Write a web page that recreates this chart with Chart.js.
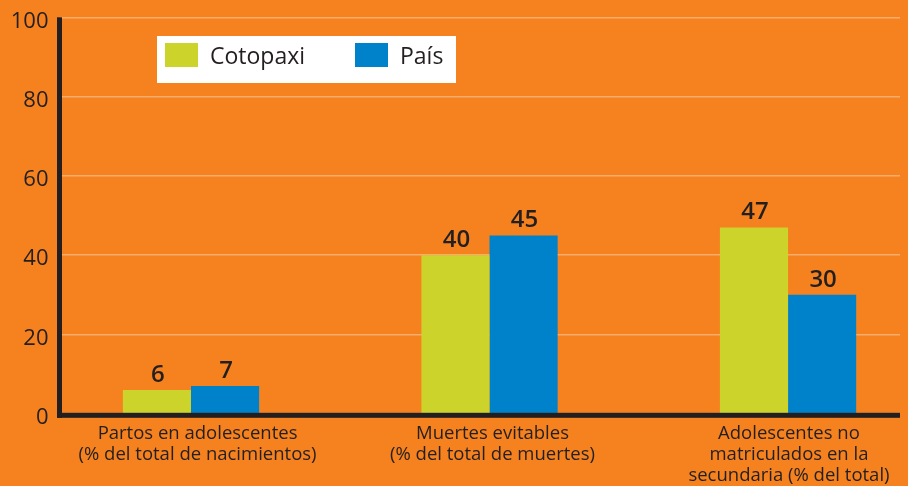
<!DOCTYPE html>
<html>
<head>
<meta charset="utf-8">
<script src="https://cdn.jsdelivr.net/npm/chart.js@4.4.1/dist/chart.umd.min.js"></script>
<style>
    html, body { margin: 0; padding: 0; background: #F5821F; overflow: hidden; }
    #wrap { width: 908px; height: 486px; }
</style>
</head>
<body>
<div id="wrap"><canvas id="chart"></canvas></div>
<script>
const categories = [
    ["Partos en adolescentes", "(% del total de nacimientos)"],
    ["Muertes evitables", "(% del total de muertes)"],
    ["Adolescentes no", "matriculados en la", "secundaria (% del total)"]
];
const seriesNames = ["Cotopaxi", "País"];
const cotopaxi = [6, 40, 47];
const pais = [7, 45, 30];
const yTicks = [0, 20, 40, 60, 80, 100];

const colors = ["#CCD32A", "#0082CA"];
const ink = "#231F20";
const font = "'Open Sans', sans-serif";

function toPoints(values) {
    return values.map((v, i) => ({ x: i, y: v }));
}

// value labels above each bar
const valueLabels = {
    id: "valueLabels",
    afterDatasetsDraw(chart) {
        const ctx = chart.ctx;
        ctx.save();
        ctx.fillStyle = ink;
        ctx.font = "600 24px " + font;
        ctx.textAlign = "center";
        ctx.textBaseline = "alphabetic";
        chart.data.datasets.forEach((ds, di) => {
            chart.getDatasetMeta(di).data.forEach((bar, i) => {
                ctx.fillText(String(ds.data[i].y), bar.x + 1, bar.y - 8);
            });
        });
        ctx.restore();
    }
};

// thick black axes
const axisLines = {
    id: "axisLines",
    afterDatasetsDraw(chart) {
        const ctx = chart.ctx;
        const a = chart.chartArea;
        const y = chart.scales.y;
        const top = y.getPixelForValue(100);
        const zero = y.getPixelForValue(0);
        ctx.save();
        ctx.fillStyle = ink;
        ctx.fillRect(a.left - 2.5, top, 5, zero + 4 - top);
        ctx.fillRect(a.left - 2.5, zero - 1, a.right - a.left + 2.5, 5);
        ctx.restore();
    }
};

// white legend box
const boxLegend = {
    id: "boxLegend",
    afterDraw(chart) {
        const ctx = chart.ctx;
        ctx.save();
        ctx.fillStyle = "#FFFFFF";
        ctx.fillRect(157, 36, 299, 47);
        const xs = [165, 355];
        chart.data.datasets.forEach((ds, i) => {
            ctx.fillStyle = ds.backgroundColor;
            ctx.fillRect(xs[i], 43, 33, 24);
            ctx.fillStyle = ink;
            ctx.font = "400 23px " + font;
            ctx.textAlign = "left";
            ctx.textBaseline = "middle";
            ctx.fillText(ds.label, xs[i] + 45, 57);
        });
        ctx.restore();
    }
};

new Chart(document.getElementById("chart"), {
    type: "bar",
    data: {
        datasets: [
            { label: seriesNames[0], data: toPoints(cotopaxi), backgroundColor: colors[0] },
            { label: seriesNames[1], data: toPoints(pais), backgroundColor: colors[1] }
        ]
    },
    options: {
        responsive: true,
        maintainAspectRatio: false,
        animation: false,
        layout: { padding: { top: 17.3, right: 8, left: 0, bottom: 0 } },
        datasets: {
            bar: { barPercentage: 1, categoryPercentage: 0.462, borderWidth: 0 }
        },
        plugins: {
            legend: { display: false },
            tooltip: { enabled: false }
        },
        scales: {
            x: {
                type: "linear",
                offset: false,
                min: -0.4405,
                max: 2.375,
                afterFit: s => {
                    s.height = 72.2;
                    s.paddingLeft = 0;
                    s.paddingRight = 0;
                },
                // labels sit a touch right of the bar pairs in the original
                afterBuildTicks: s => {
                    const nudge = [0.022, 0.01, 0.003];
                    s.ticks = categories.map((c, i) => ({ value: i + nudge[i] }));
                },
                grid: { display: false, drawTicks: false },
                border: { display: false },
                ticks: {
                    autoSkip: false,
                    maxRotation: 0,
                    padding: 9.5,
                    color: ink,
                    font: { family: font, size: 18.5, lineHeight: 1.135 },
                    callback: v => categories[Math.round(v)]
                }
            },
            y: {
                min: 0,
                max: 100,
                afterFit: s => {
                    s.width = 59.5;
                    s.paddingTop = 0;
                    s.paddingBottom = 0;
                },
                afterBuildTicks: s => { s.ticks = yTicks.map(v => ({ value: v })); },
                grid: {
                    color: "rgba(255,255,255,0.35)",
                    lineWidth: 1.5,
                    drawTicks: false
                },
                border: { display: false },
                ticks: {
                    padding: 11,
                    labelOffset: 4,
                    color: ink,
                    font: { family: font, size: 22 }
                }
            }
        }
    },
    plugins: [valueLabels, axisLines, boxLegend]
});
</script>
</body>
</html>
